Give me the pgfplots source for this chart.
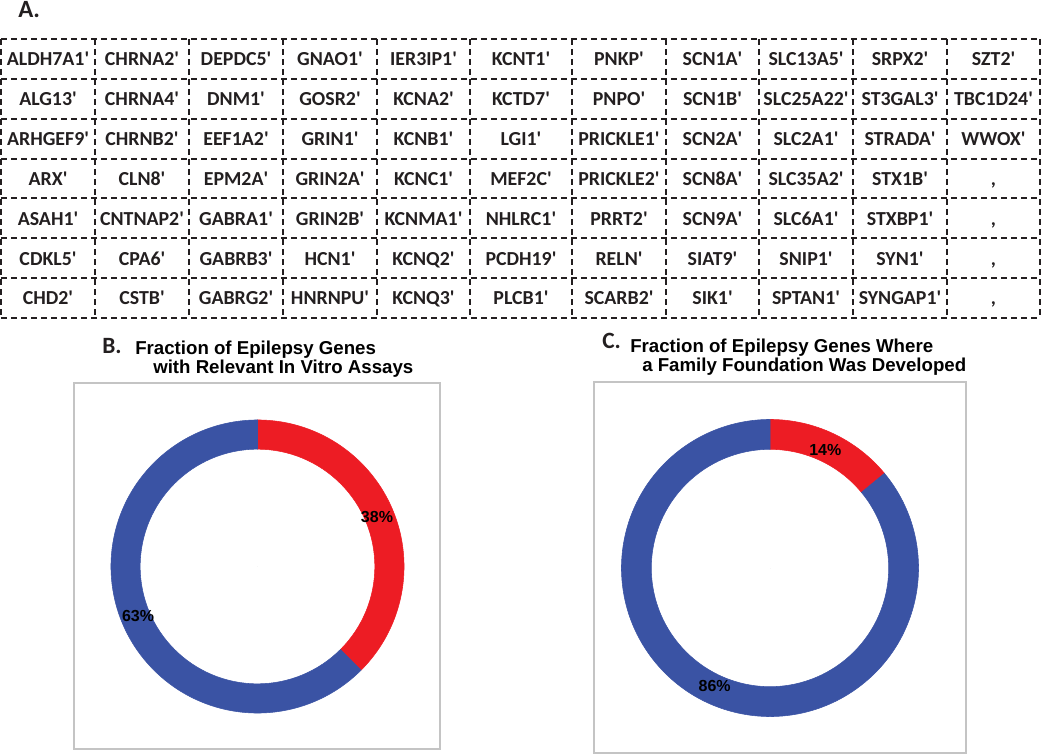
\documentclass[border=0pt]{standalone}
\usepackage{pgfplots}
\pgfplotsset{compat=1.18}
\usepackage{fontspec}
\setmainfont{Carlito}
\newfontfamily\arialf{Liberation Sans}

\definecolor{donutred}{HTML}{ED1C24}
\definecolor{donutblue}{HTML}{3A53A4}
\definecolor{framegray}{HTML}{C4C4C4}
\definecolor{ink}{HTML}{231F20}

% one ring slice per table row: pct = share, start = share already drawn, c = colour index
\pgfplotsset{
  donut/.style={
    scatter, only marks, mark=*, mark size=0pt,
    point meta=\thisrow{c},
    visualization depends on={value \thisrow{pct} \as \pv},
    visualization depends on={value \thisrow{start} \as \st},
    visualization depends on={value \thisrow{c} \as \ci},
    scatter/@pre marker code/.code={%
      \pgfmathsetmacro\sa{90-3.6*\st}%
      \pgfmathsetmacro\ea{90-3.6*(\st+\pv)}%
      \pgfmathsetmacro\ma{0.5*(\sa+\ea)}%
      \ifdim\ci pt<0.5pt \def\slc{donutred}\else\def\slc{donutblue}\fi
      \fill[\slc] (\sa:\Rout) arc[start angle=\sa, end angle=\ea, radius=\Rout]
        -- (\ea:\Rin) arc[start angle=\ea, end angle=\sa, radius=\Rin] -- cycle;
      \node[text=black, font=\arialf\bfseries\fontsize{12}{14}\selectfont]
        at (\ma:\Rlab) {\pgfmathprintnumber[fixed,precision=0,assume math mode=true]{\pv}\%};
    },
    scatter/@post marker code/.code={},
  },
  frame/.style={
    scale only axis, anchor=north west,
    xtick=\empty, ytick=\empty,
    axis line style={draw=framegray, line width=1.1pt},
    clip=false,
  },
}

\newcommand\tabfont{\fontsize{14.9}{16}\selectfont\bfseries}
\newcommand\ttlfont{\arialf\bfseries\fontsize{14}{11.6}\selectfont}

\begin{document}
\begin{tikzpicture}[x=0.75pt,y=-0.75pt]
\path[use as bounding box] (0,0) rectangle (1050,756);

% ---- panel A: gene table
\node[anchor=base west, inner sep=0, text=ink, font=\fontsize{18.6}{20}\selectfont\bfseries] at (18,18) {A.};

\begin{scope}[draw=ink, line width=1pt, dash pattern=on 4.5pt off 3pt]
  \foreach \yy in {39,79,119,159,198,238,278,318} \draw (1,\yy) -- (1040,\yy);
  \foreach \xx in {1,95,189,283,377,470,572,666,759,853,947,1040} \draw (\xx,39) -- (\xx,318);
\end{scope}

\foreach \row [count=\r] in {
  {ALDH7A1,CHRNA2,DEPDC5,GNAO1,IER3IP1,KCNT1,PNKP,SCN1A,SLC13A5,SRPX2,SZT2},
  {ALG13,CHRNA4,DNM1,GOSR2,KCNA2,KCTD7,PNPO,SCN1B,SLC25A22,ST3GAL3,TBC1D24},
  {ARHGEF9,CHRNB2,EEF1A2,GRIN1,KCNB1,LGI1,PRICKLE1,SCN2A,SLC2A1,STRADA,WWOX},
  {ARX,CLN8,EPM2A,GRIN2A,KCNC1,MEF2C,PRICKLE2,SCN8A,SLC35A2,STX1B},
  {ASAH1,CNTNAP2,GABRA1,GRIN2B,KCNMA1,NHLRC1,PRRT2,SCN9A,SLC6A1,STXBP1},
  {CDKL5,CPA6,GABRB3,HCN1,KCNQ2,PCDH19,RELN,SIAT9,SNIP1,SYN1},
  {CHD2,CSTB,GABRG2,HNRNPU,KCNQ3,PLCB1,SCARB2,SIK1,SPTAN1,SYNGAP1}} {
  \pgfmathsetmacro\yb{39.8*(\r-1)+66}
  \foreach \g [count=\c] in \row {
    \pgfmathsetmacro\cx{{48,142,236,330,423.5,521,619,712.5,806,900,993.5}[\c-1]}
    \node[anchor=base, inner sep=0, text=ink, font=\tabfont] at (\cx,\yb) {\g\textquotesingle};
  }
  \ifnum\r>3
    \node[anchor=base, inner sep=0, text=ink, font=\tabfont] at (993.5,\yb) {,};
  \fi
}

% ---- panel B
\node[anchor=base west, inner sep=0, text=ink, font=\fontsize{17.5}{19}\selectfont\bfseries] at (102,353) {B.};
\node[anchor=base west, inner sep=0, align=left, font=\ttlfont] at (135,373.5)
  {Fraction of Epilepsy Genes\\\hspace*{13.5pt}with Relevant In Vitro Assays};

\def\Rout{109.9pt}\def\Rin{88pt}\def\Rlab{97pt}
\begin{axis}[frame, at={(55.5pt,-287.25pt)}, width=274.5pt, height=274.5pt,
  xmin=-183.5, xmax=182.5, ymin=-182.5, ymax=183.5]
\addplot[donut] table {
x y pct start c
0 0 37.5 0 0
0 0 62.5 37.5 1
};
\end{axis}

% ---- panel C
\node[anchor=base west, inner sep=0, text=ink, font=\fontsize{17.5}{19}\selectfont\bfseries] at (602,348) {C.};
\node[anchor=base west, inner sep=0, align=left, font=\ttlfont] at (630,371.5)
  {Fraction of Epilepsy Genes Where\\\hspace*{9pt}a Family Foundation Was Developed};

\def\Rout{111.4pt}\def\Rin{89pt}\def\Rlab{97.5pt}
\begin{axis}[frame, at={(445.5pt,-286.5pt)}, width=279pt, height=278.25pt,
  xmin=-176, xmax=196, ymin=-185, ymax=186]
\addplot[donut] table {
x y pct start c
0 0 14 0 0
0 0 86 14 1
};
\end{axis}
\end{tikzpicture}
\end{document}
